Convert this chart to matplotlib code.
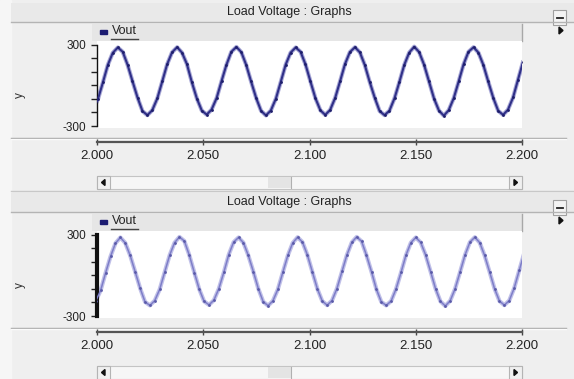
import matplotlib
matplotlib.use("Agg")
import matplotlib.pyplot as plt
from matplotlib.patches import Rectangle, Polygon

plt.rcParams['font.family'] = ['Liberation Sans', 'DejaVu Sans']

W, H = 574, 379

# Data (time in s, voltage in V)
title_text = "Load Voltage : Graphs"
series_name = "Vout"
x_ticks = [2.000, 2.050, 2.100, 2.150, 2.200]
x_tick_labels = ["2.000", "2.050", "2.100", "2.150", "2.200"]
y_ticks = [-300, -200, -100, 0, 100, 200, 300]
y_tick_labels = ["-300", "", "", "", "", "", "300"]

t_top = [
    1.9958, 1.9981, 2.0005, 2.0028, 2.0051, 2.0074, 2.0098, 2.0121, 2.0144, 2.0167, 2.0191, 2.0214,
    2.0237, 2.0260, 2.0284, 2.0307, 2.0330, 2.0353, 2.0377, 2.0400, 2.0423, 2.0446, 2.0470, 2.0493,
    2.0516, 2.0539, 2.0563, 2.0586, 2.0609, 2.0632, 2.0656, 2.0679, 2.0702, 2.0725, 2.0749, 2.0772,
    2.0795, 2.0818, 2.0842, 2.0865, 2.0888, 2.0911, 2.0935, 2.0958, 2.0981, 2.1004, 2.1028, 2.1051,
    2.1074, 2.1097, 2.1121, 2.1144, 2.1167, 2.1190, 2.1214, 2.1237, 2.1260, 2.1283, 2.1307, 2.1330,
    2.1353, 2.1376, 2.1400, 2.1423, 2.1446, 2.1469, 2.1493, 2.1516, 2.1539, 2.1562, 2.1586, 2.1609,
    2.1632, 2.1655, 2.1679, 2.1702, 2.1725, 2.1748, 2.1772, 2.1795, 2.1818, 2.1841, 2.1865, 2.1888,
    2.1911, 2.1934, 2.1958, 2.1981, 2.2004,
]
v_top = [
    -218, -182, -100, 22, 150, 238, 278, 246, 150, 30, -92, -190,
    -220, -184, -96, 28, 154, 242, 280, 240, 156, 24, -98, -186,
    -216, -180, -94, 30, 150, 246, 282, 244, 150, 28, -94, -188,
    -222, -186, -98, 26, 152, 240, 278, 246, 154, 30, -96, -184,
    -218, -182, -92, 30, 156, 244, 280, 242, 150, 26, -92, -190,
    -220, -188, -96, 24, 150, 240, 284, 244, 152, 30, -98, -186,
    -224, -184, -94, 28, 154, 246, 280, 240, 150, 28, -94, -188,
    -218, -180, -90, 40, 168,
]

t_bot = [
    1.9971, 1.9994, 2.0017, 2.0041, 2.0064, 2.0087, 2.0110, 2.0133, 2.0156, 2.0180, 2.0203, 2.0226,
    2.0249, 2.0272, 2.0295, 2.0319, 2.0342, 2.0365, 2.0388, 2.0411, 2.0434, 2.0458, 2.0481, 2.0504,
    2.0527, 2.0550, 2.0573, 2.0597, 2.0620, 2.0643, 2.0666, 2.0689, 2.0712, 2.0736, 2.0759, 2.0782,
    2.0805, 2.0828, 2.0851, 2.0875, 2.0898, 2.0921, 2.0944, 2.0967, 2.0990, 2.1014, 2.1037, 2.1060,
    2.1083, 2.1106, 2.1129, 2.1153, 2.1176, 2.1199, 2.1222, 2.1245, 2.1268, 2.1292, 2.1315, 2.1338,
    2.1361, 2.1384, 2.1407, 2.1431, 2.1454, 2.1477, 2.1500, 2.1523, 2.1546, 2.1570, 2.1593, 2.1616,
    2.1639, 2.1662, 2.1685, 2.1709, 2.1732, 2.1755, 2.1778, 2.1801, 2.1824, 2.1848, 2.1871, 2.1894,
    2.1917, 2.1940, 2.1963, 2.1987, 2.2010,
]
v_bot = [
    -220, -190, -112, 20, 140, 236, 278, 238, 146, 24, -96, -196,
    -222, -186, -104, 26, 148, 240, 282, 252, 150, 20, -102, -192,
    -218, -184, -100, 22, 152, 244, 278, 240, 146, 26, -98, -194,
    -224, -188, -104, 24, 146, 238, 280, 244, 150, 22, -100, -190,
    -220, -186, -98, 28, 150, 242, 282, 250, 148, 24, -104, -196,
    -222, -190, -102, 22, 148, 240, 278, 242, 152, 26, -98, -192,
    -226, -188, -100, 26, 150, 244, 280, 240, 146, 22, -100, -190,
    -220, -186, -96, 36, 160,
]

panels = [
    dict(dy=0, t=t_top, v=v_top, spine_w=1.0, halo='#a8a8d6', core='#303088', core_w=1.5, dot='#1e1e6a'),
    dict(dy=190, t=t_bot, v=v_bot, spine_w=3.0, halo='#c0c0e8', core='#7e7ec8', core_w=1.1, dot='#5a5aa8'),
]


def px_rect(x0, y0, x1, y1):
    return [x0 / W, 1 - y1 / H, (x1 - x0) / W, (y1 - y0) / H]


fig = plt.figure(figsize=(W / 100, H / 100), dpi=100, facecolor='#efefef')
bg = fig.add_axes([0, 0, 1, 1])
bg.set_xlim(0, W)
bg.set_ylim(H, 0)
bg.axis('off')
bg.add_patch(Rectangle((0, 0), 11, H, color='#f6f6f6', zorder=0))

for p in panels:
    dy = p['dy']
    # window title bar
    bg.add_patch(Rectangle((11, dy + 3), W - 11, 19, facecolor='#e9e9e9', edgecolor='none'))
    bg.plot([11, W], [dy + 22, dy + 22], color='#b4b4b4', lw=1)
    bg.text(289, dy + 11.5, title_text, ha='center', va='center', fontsize=9, color='#222222')
    bg.add_patch(Rectangle((553, dy + 10), 13, 15, facecolor='#f4f4f4', edgecolor='#a0a0a0', lw=0.8))
    bg.plot([556.5, 562.5], [dy + 18, dy + 18], color='#222222', lw=1.3)
    bg.add_patch(Polygon([[559, dy + 27], [559, dy + 34], [563, dy + 30.5]], closed=True, color='#111111'))

    # legend strip
    bg.add_patch(Rectangle((92, dy + 24), 430, 17, facecolor='#e6e6e6', edgecolor='none'))
    bg.plot([522, 522], [dy + 24, dy + 41], color='#a8a8a8', lw=1)
    bg.add_patch(Rectangle((100, dy + 29.5), 7, 4.5, color='#1c1c72'))
    bg.text(111.5, dy + 31.5, series_name, ha='left', va='center', fontsize=9, color='#222222')
    bg.plot([111, 138], [dy + 38.5, dy + 38.5], color='#444444', lw=1)

    bg.text(20, dy + 95, 'y', rotation=90, ha='center', va='center', fontsize=8.5, color='#333333')

    # separator under the plot
    bg.plot([11, 566], [dy + 137.5, dy + 137.5], color='#a4a4a4', lw=1)
    bg.plot([11, 566], [dy + 138.5, dy + 138.5], color='#fbfbfb', lw=1)

    # scroll bar
    bg.add_patch(Rectangle((97, dy + 176), 425, 13, facecolor='#f6f6f6', edgecolor='#c4c4c4', lw=0.8))
    bg.add_patch(Rectangle((268, dy + 177), 23, 11, facecolor='#e4e4e4', edgecolor='none'))
    bg.plot([291, 291], [dy + 177, dy + 188], color='#b0b0b0', lw=0.8)
    bg.add_patch(Rectangle((97, dy + 176), 13, 13, facecolor='#f0f0f0', edgecolor='#b4b4b4', lw=0.8))
    bg.add_patch(Rectangle((509, dy + 176), 13, 13, facecolor='#f0f0f0', edgecolor='#b4b4b4', lw=0.8))
    bg.add_patch(Polygon([[105, dy + 179.5], [105, dy + 185.5], [101.5, dy + 182.5]], closed=True, color='#111111'))
    bg.add_patch(Polygon([[514, dy + 179.5], [514, dy + 185.5], [517.5, dy + 182.5]], closed=True, color='#111111'))
    bg.plot([11, W], [dy + 190.5, dy + 190.5], color='#c8c8c8', lw=1)

    # waveform area
    ax = fig.add_axes(px_rect(97, dy + 41, 522, dy + 128))
    ax.set_facecolor('white')
    ax.set_xlim(2.0, 2.2)
    ax.set_ylim(-314.7, 325.8)
    ax.plot(p['t'], p['v'], color=p['halo'], lw=3.0, solid_joinstyle='round', zorder=2)
    ax.plot(p['t'], p['v'], color=p['core'], lw=p['core_w'], solid_joinstyle='round', zorder=3,
            marker='o', ms=2.0, mfc=p['dot'], mec='none')
    for s in ['top', 'right', 'bottom']:
        ax.spines[s].set_visible(False)
    ax.spines['left'].set_bounds(-300, 300)
    ax.spines['left'].set_linewidth(p['spine_w'])
    ax.spines['left'].set_color('#111111')
    ax.set_xticks([])
    ax.set_yticks(y_ticks)
    ax.set_yticklabels(y_tick_labels)
    ax.tick_params(axis='y', length=4, width=1, color='#222222', labelsize=8.5, labelcolor='#222222', pad=4)

    # time axis below the separator
    axx = fig.add_axes(px_rect(97, dy + 132, 522, dy + 142))
    axx.patch.set_visible(False)
    axx.set_xlim(2.0, 2.2)
    for s in ['top', 'right', 'left']:
        axx.spines[s].set_visible(False)
    axx.spines['bottom'].set_color('#555555')
    axx.spines['bottom'].set_linewidth(1.6)
    axx.set_yticks([])
    axx.set_xticks(x_ticks)
    axx.set_xticklabels(x_tick_labels)
    axx.tick_params(axis='x', direction='inout', length=4, width=1, color='#444444',
                    labelsize=9.5, labelcolor='#222222', pad=3.5)

fig.savefig('out.png', dpi=100, facecolor=fig.get_facecolor())
